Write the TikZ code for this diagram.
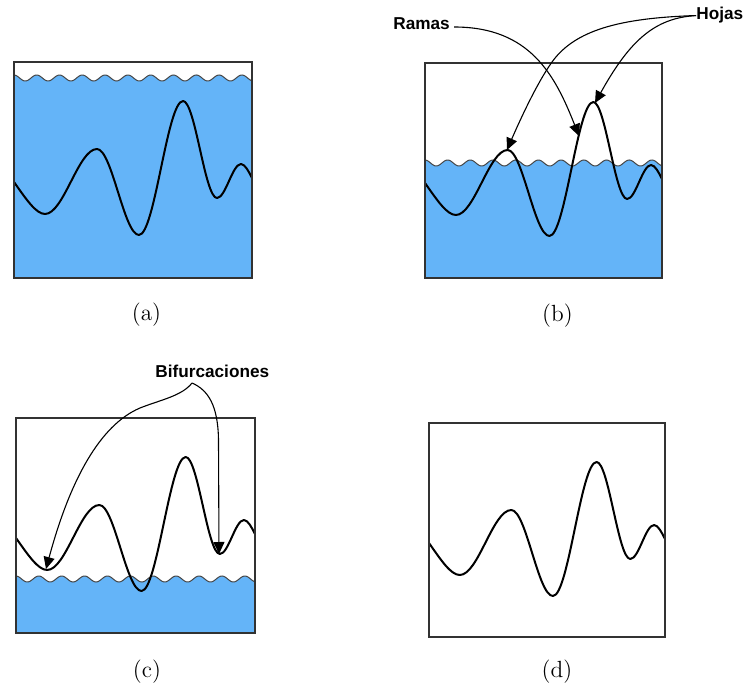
\documentclass[tikz,border=0pt]{standalone}
\usepackage{fontspec}
\newfontfamily\lblfont{Liberation Sans}
\usetikzlibrary{arrows.meta,calc}
\definecolor{waterblue}{RGB}{100,180,248}
\definecolor{boxgray}{RGB}{50,50,50}
\definecolor{wavegray}{RGB}{70,70,70}
\tikzset{
  panelbox/.style={draw=boxgray, line width=0.65pt},
  sigline/.style={line width=1pt, black, line join=round},
  waveline/.style={draw=wavegray, line width=0.5pt},
  waterfill/.style={fill=waterblue},
  callout/.style={line width=0.55pt, black, -{Triangle[length=6pt,width=5.5pt]}},
  tag/.style={font=\lblfont\bfseries\fontsize{8.6}{10}\selectfont, inner sep=0pt, anchor=base west},
  caption/.style={font=\fontsize{11.7}{14}\selectfont, inner sep=0pt},
}
\newcommand\signalcurve{%
  \draw[sigline] (0,120) .. controls (12,137) and (22,152) .. (31,152)
    .. controls (49.7,152) and (64.3,87) .. (83,87)
    .. controls (98,87) and (110,173) .. (125,173)
    .. controls (140.8,173) and (153.2,39) .. (169,39)
    .. controls (181.2,39) and (190.8,136) .. (203,136)
    .. controls (211.6,136) and (218.4,102) .. (227,102)
    .. controls (231,102) and (235,110) .. (238,116);}
\newcommand\waterlevel[2]{% height, level
  \fill[waterfill] plot[domain=0:238, samples=240] (\x, {#2-3*cos(15.7895*(\x-22.7))}) -- (238,#1) -- (0,#1) -- cycle;
  \draw[waveline] plot[domain=0:238, samples=240] (\x, {#2-3*cos(15.7895*(\x-22.7))});}
\begin{document}
\begin{tikzpicture}[x=0.5pt, y=-0.5pt]
\useasboundingbox[fill=white] (0,0) rectangle (745,690);

% (a)
\begin{scope}[shift={(14,62)}]
  \waterlevel{216}{16}
  \signalcurve
  \draw[panelbox] (0,0) rectangle (238,216);
\end{scope}
% (b)
\begin{scope}[shift={(425,63)}, xscale=237/238]
  \waterlevel{215}{100}
  \signalcurve
  \draw[panelbox] (0,0) rectangle (238,215);
\end{scope}
% (c)
\begin{scope}[shift={(16,418)}, xscale=239/238]
  \waterlevel{215}{161}
  \signalcurve
  \draw[panelbox] (0,0) rectangle (238,215);
\end{scope}
% (d)
\begin{scope}[shift={(429,423)}, xscale=236/238]
  \signalcurve
  \draw[panelbox] (0,0) rectangle (238,214);
\end{scope}

% captions
\node[caption] (capa) at (146.5,315) {(a)};
\node[caption] (capb) at (557.5,316) {(b)};
\node[caption] (capc) at (147,672) {(c)};
\node[caption] (capd) at (557,672) {(d)};

% tags
\node[tag] (ramas) at (393,30) {Ramas};
\node[tag] (hojas) at (696,20) {Hojas};
\node[tag] (bif) at (155,377.5) {Bifurcaciones};

\coordinate (branchtip) at (579,136);
\coordinate (leafone) at (507,150);
\coordinate (leaftwo) at (595,103);
\coordinate (bifpt) at (192,383);
\coordinate (bifleft) at (46,569);
\coordinate (bifright) at (219,554);

\draw[callout] ($(ramas.base east)+(4,-3)$) .. controls (530,27) and (555,75) .. (branchtip);
\draw[callout] (hojas.west) .. controls (620,18) and (575,30) .. (552,62)
   .. controls (537,83) and (520,120) .. (leafone);
\draw[callout] (hojas.west) .. controls (655,18) and (630,40) .. (leaftwo);
\draw[callout] (bifpt) .. controls (182,396) and (160,400) .. (140,408)
   .. controls (100,425) and (70,480) .. (bifleft);
\draw[callout] (bifpt) .. controls (208,390) and (218,405) .. (218.5,440) -- (bifright);
\end{tikzpicture}
\end{document}
